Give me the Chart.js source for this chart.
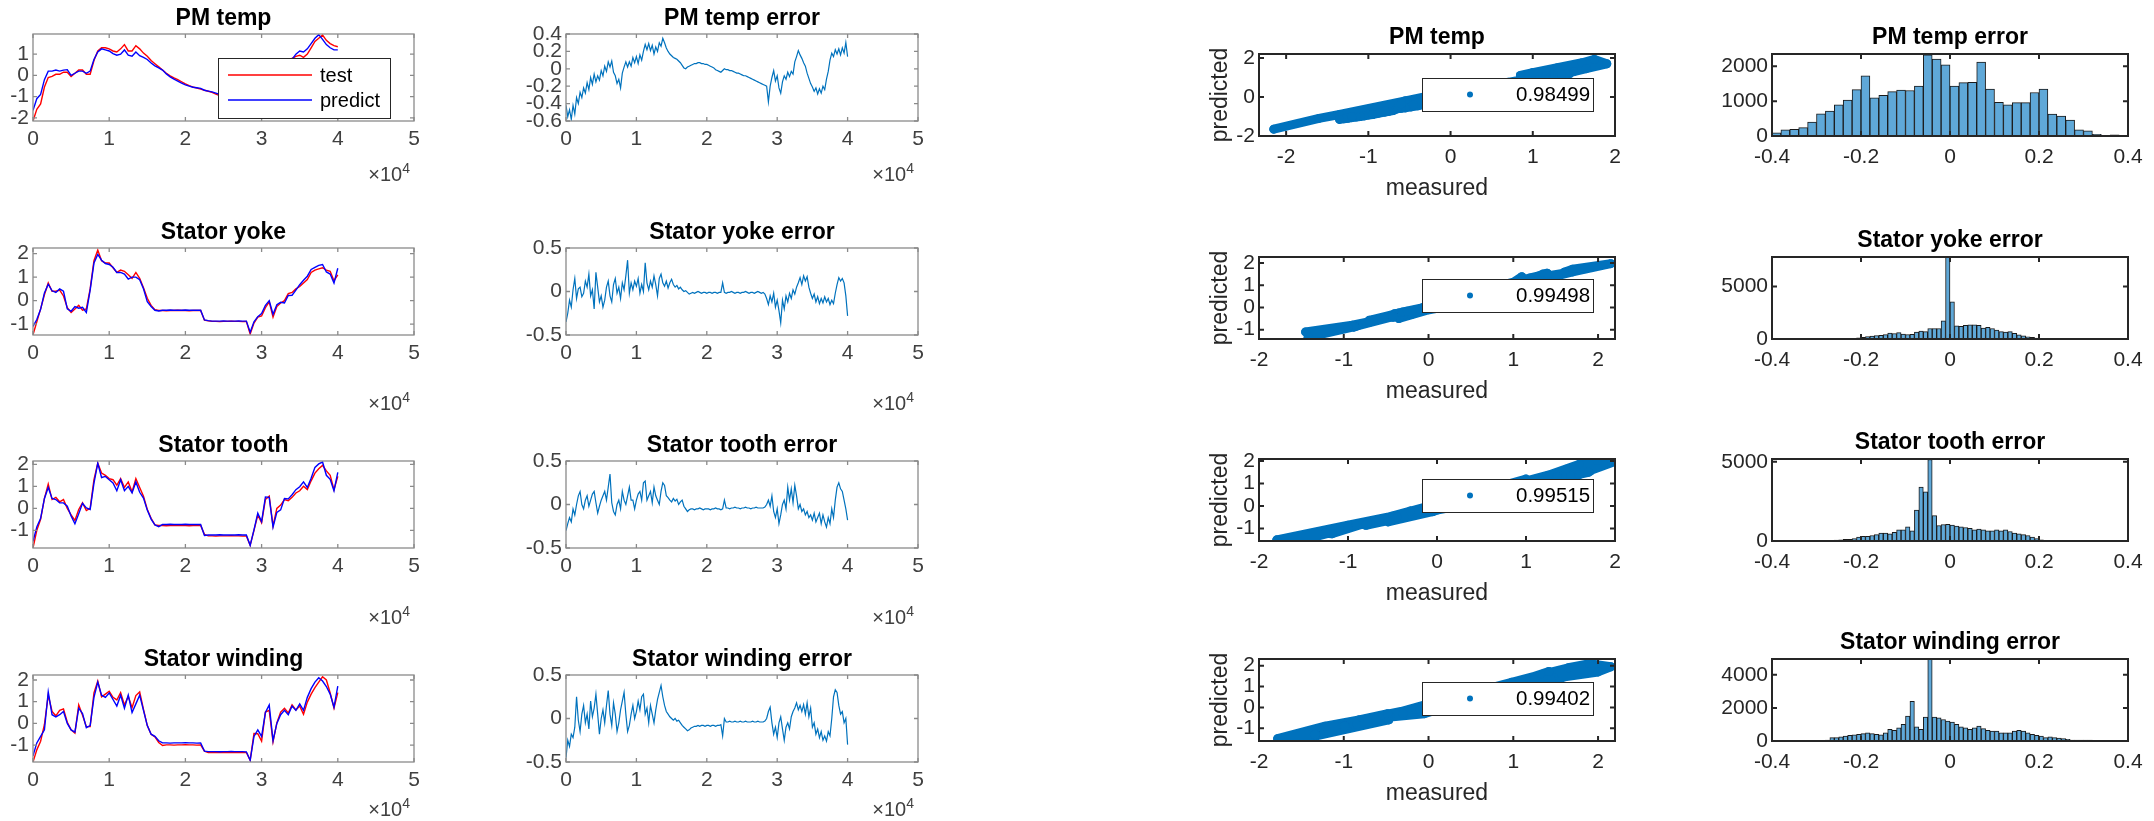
<!DOCTYPE html>
<html>
<head>
<meta charset="utf-8">
<script src="https://cdn.jsdelivr.net/npm/chart.js@4.4.1/dist/chart.umd.min.js"></script>
<style>
  html, body { margin: 0; padding: 0; background: #fff; }
  body { width: 2154px; height: 821px; position: relative; overflow: hidden; }
  canvas { position: absolute; }
</style>
</head>
<body>
<script>
"use strict";

// ---------- data ----------
const timeStep = 500;   // samples between points of the temperature traces
const errStep = 250;    // samples between points of the error traces
const names = ['PM temp', 'Stator yoke', 'Stator tooth', 'Stator winding'];
const rValues = ['0.98499', '0.99498', '0.99515', '0.99402'];

const pmTest = [-2.15,-1.60,-1.35,-0.55,-0.10,-0.05,0.05,0.05,0.15,0.15,
  -0.05,0.10,0.25,0.25,0.05,0.05,0.70,1.15,1.30,1.30,
  1.25,1.15,1.10,1.25,1.45,1.15,1.15,1.40,1.25,1.05,
  0.90,0.70,0.55,0.40,0.25,0.10,-0.02,-0.12,-0.20,-0.30,
  -0.40,-0.48,-0.55,-0.60,-0.65,-0.70,-0.75,-0.80,-0.88,-0.95,
  -1.00,-1.05,-1.10,-1.15,-1.20,-1.25,-1.30,-1.35,-1.20,-0.95,
  -0.80,-0.60,-0.40,-0.45,-0.20,0.05,0.30,0.55,0.80,0.90,
  0.95,0.85,1.00,1.30,1.60,1.75,1.90,1.65,1.50,1.40,
  1.35];
const pmPredict = [-1.65,-1.10,-0.90,-0.20,0.20,0.20,0.25,0.20,0.25,0.27,
  0.00,0.10,0.20,0.20,0.10,0.20,0.75,1.10,1.25,1.20,
  1.15,1.03,0.95,1.00,1.20,0.95,0.90,1.10,0.93,0.85,
  0.75,0.58,0.45,0.35,0.25,0.07,-0.07,-0.18,-0.27,-0.36,
  -0.45,-0.51,-0.56,-0.58,-0.61,-0.70,-0.74,-0.78,-0.84,-0.90,
  -0.93,-0.97,-1.00,-1.03,-1.06,-1.09,-1.12,-1.15,-1.00,-0.90,
  -0.70,-0.35,-0.30,-0.40,-0.15,-0.05,0.10,0.40,0.75,1.00,
  1.15,1.10,1.25,1.50,1.75,1.92,1.70,1.45,1.30,1.20,
  1.20];
const yokeTest = [-1.45,-0.90,-0.35,0.25,0.75,0.40,0.40,0.45,0.20,-0.30,
  -0.50,-0.35,-0.20,-0.40,-0.35,0.50,1.70,2.15,1.70,1.60,
  1.60,1.40,1.20,1.30,1.25,1.10,0.95,1.20,0.95,0.55,
  0.10,-0.20,-0.38,-0.42,-0.42,-0.43,-0.42,-0.42,-0.41,-0.42,
  -0.42,-0.43,-0.42,-0.42,-0.42,-0.83,-0.86,-0.88,-0.88,-0.89,
  -0.88,-0.88,-0.87,-0.88,-0.88,-0.89,-0.88,-1.42,-0.95,-0.70,
  -0.65,-0.30,-0.05,-0.70,-0.25,-0.10,0.00,0.30,0.35,0.50,
  0.60,0.75,0.90,1.20,1.30,1.35,1.40,1.30,1.25,0.85,
  1.10];
const yokePredict = [-1.10,-0.80,-0.37,0.33,0.70,0.42,0.35,0.50,0.40,-0.35,
  -0.45,-0.25,-0.32,-0.28,-0.50,0.45,1.60,1.97,1.72,1.58,
  1.54,1.42,1.20,1.20,1.13,0.92,1.00,1.00,0.89,0.51,
  -0.04,-0.25,-0.41,-0.44,-0.41,-0.41,-0.40,-0.41,-0.41,-0.41,
  -0.40,-0.41,-0.41,-0.41,-0.41,-0.82,-0.85,-0.87,-0.87,-0.87,
  -0.86,-0.87,-0.87,-0.87,-0.86,-0.87,-0.87,-1.34,-0.90,-0.68,
  -0.55,-0.20,0.00,-0.58,-0.17,-0.07,-0.10,0.22,0.23,0.45,
  0.68,0.87,1.04,1.33,1.42,1.50,1.54,1.22,1.13,0.75,
  1.38];
const toothTest = [-1.80,-1.00,-0.50,0.45,1.10,0.40,0.50,0.30,0.40,0.00,
  -0.30,-0.55,-0.05,0.25,-0.10,0.00,1.30,2.05,1.60,1.50,
  1.35,1.30,1.05,1.35,0.95,1.20,0.75,1.35,0.95,0.55,
  -0.05,-0.45,-0.75,-0.78,-0.78,-0.79,-0.78,-0.78,-0.77,-0.78,
  -0.78,-0.79,-0.78,-0.78,-0.78,-1.18,-1.25,-1.25,-1.26,-1.25,
  -1.25,-1.25,-1.24,-1.25,-1.25,-1.26,-1.25,-1.68,-1.00,-0.30,
  -0.65,0.40,0.55,-0.80,0.00,0.15,0.40,0.35,0.50,0.70,
  0.80,1.00,0.85,1.25,1.60,1.80,1.95,1.70,1.50,0.85,
  1.45];
const toothPredict = [-1.50,-0.85,-0.45,0.45,0.95,0.45,0.40,0.25,0.25,0.10,
  -0.35,-0.70,-0.25,0.23,0.02,-0.05,1.15,2.05,1.40,1.45,
  1.30,1.15,0.80,1.30,0.80,1.00,0.70,1.20,0.73,0.47,
  -0.08,-0.49,-0.75,-0.83,-0.73,-0.73,-0.72,-0.73,-0.73,-0.73,
  -0.72,-0.73,-0.73,-0.73,-0.73,-1.23,-1.21,-1.21,-1.21,-1.20,
  -1.21,-1.21,-1.21,-1.21,-1.20,-1.21,-1.21,-1.68,-0.98,-0.22,
  -0.60,0.52,0.50,-0.85,-0.18,-0.07,0.45,0.43,0.62,0.85,
  0.98,1.20,0.95,1.37,1.86,2.02,2.10,1.50,1.32,0.80,
  1.63];
const windTest = [-1.78,-1.22,-0.82,-0.05,1.30,0.55,0.35,0.60,0.67,0.05,
  -0.30,-0.45,0.85,0.37,-0.15,-0.15,1.40,1.95,1.22,1.35,
  1.48,1.20,1.08,1.42,0.85,1.25,0.72,1.28,1.45,0.65,
  -0.10,-0.50,-0.62,-0.88,-1.02,-0.99,-0.99,-1.00,-0.99,-0.99,
  -0.98,-0.99,-0.99,-1.00,-0.99,-1.28,-1.34,-1.34,-1.35,-1.34,
  -1.34,-1.34,-1.33,-1.34,-1.34,-1.35,-1.34,-1.70,-0.47,-0.48,
  -0.82,0.52,0.60,-0.85,0.02,0.52,0.70,0.48,0.85,0.62,
  0.80,0.42,0.98,1.35,1.65,1.90,2.15,2.00,1.40,0.70,
  1.42];
const windPredict = [-1.50,-0.90,-0.60,-0.30,1.45,0.40,0.30,0.40,0.55,0.00,
  -0.30,-0.40,0.70,0.45,-0.20,-0.10,1.20,1.90,1.30,1.20,
  1.40,1.10,0.80,1.30,0.70,1.30,0.50,0.90,1.30,0.60,
  -0.10,-0.50,-0.60,-0.80,-0.90,-0.90,-0.91,-0.90,-0.90,-0.90,
  -0.89,-0.90,-0.90,-0.91,-0.90,-1.28,-1.30,-1.30,-1.30,-1.31,
  -1.30,-1.30,-1.29,-1.30,-1.30,-1.30,-1.31,-1.70,-0.60,-0.30,
  -0.60,0.50,0.85,-0.80,0.00,0.40,0.60,0.40,0.80,0.60,
  0.90,0.60,1.20,1.60,1.90,2.10,1.95,1.70,1.35,0.75,
  1.72];

const pmErr = [-0.42,-0.55,-0.47,-0.58,-0.42,-0.52,-0.33,-0.40,-0.27,-0.33,
  -0.22,-0.28,-0.16,-0.24,-0.10,-0.18,-0.06,-0.15,-0.08,-0.13,
  -0.02,-0.08,0.03,-0.03,0.08,0.02,0.09,-0.04,-0.08,-0.17,
  -0.12,-0.22,-0.05,0.02,0.08,0.02,0.08,0.03,0.13,0.07,
  0.14,0.06,0.16,0.10,0.20,0.28,0.22,0.29,0.21,0.27,
  0.17,0.25,0.20,0.30,0.26,0.35,0.30,0.24,0.20,0.17,
  0.15,0.13,0.12,0.11,0.09,0.07,0.04,0.01,0.00,0.02,
  0.03,0.04,0.05,0.06,0.06,0.07,0.07,0.06,0.06,0.05,
  0.05,0.04,0.03,0.02,0.01,-0.01,-0.02,-0.03,-0.04,-0.02,
  0.00,-0.01,-0.01,-0.02,-0.02,-0.03,-0.04,-0.05,-0.05,-0.06,
  -0.07,-0.08,-0.08,-0.09,-0.10,-0.11,-0.12,-0.13,-0.14,-0.15,
  -0.16,-0.17,-0.18,-0.19,-0.20,-0.38,-0.20,-0.10,-0.02,-0.14,
  -0.08,-0.22,-0.28,-0.15,-0.08,-0.12,-0.04,-0.09,-0.03,-0.06,
  0.08,0.14,0.21,0.16,0.12,0.07,0.03,-0.05,-0.11,-0.17,
  -0.21,-0.26,-0.22,-0.29,-0.23,-0.28,-0.20,-0.24,-0.12,-0.03,
  0.10,0.18,0.14,0.22,0.17,0.23,0.16,0.24,0.18,0.30,
  0.14];
const yokeErr = [-0.35,-0.25,-0.10,-0.18,0.02,0.15,-0.08,0.03,0.05,-0.06,
  -0.02,0.12,0.05,0.20,-0.05,0.02,-0.20,0.22,0.05,-0.12,
  -0.05,-0.18,-0.10,0.05,0.12,-0.05,-0.12,0.08,0.15,-0.02,
  0.05,-0.08,0.10,0.02,0.18,0.36,-0.02,0.10,0.02,0.12,
  0.06,0.15,-0.02,0.08,0.00,0.33,0.10,0.02,0.12,0.05,
  0.18,0.08,-0.05,0.15,0.20,0.10,0.06,0.12,0.04,0.10,
  0.14,0.08,0.05,0.07,0.03,0.05,0.02,0.00,0.01,-0.01,
  -0.03,-0.02,-0.01,-0.02,-0.01,0.00,-0.01,-0.02,-0.01,-0.01,
  -0.02,-0.01,-0.01,-0.02,-0.01,-0.01,-0.02,-0.01,-0.01,0.10,
  -0.01,-0.02,-0.01,-0.01,0.00,-0.01,-0.02,-0.01,-0.01,-0.02,
  -0.01,-0.01,0.00,-0.01,-0.02,-0.01,-0.01,-0.02,-0.01,0.00,
  -0.01,-0.02,-0.01,-0.03,-0.08,-0.15,-0.05,-0.12,-0.02,-0.18,
  -0.10,-0.22,-0.36,-0.10,-0.20,-0.05,-0.12,-0.02,-0.08,0.02,
  -0.03,0.05,0.10,0.16,0.08,0.18,0.12,0.17,0.05,-0.02,
  -0.08,-0.03,-0.12,-0.06,-0.14,-0.08,-0.13,-0.06,-0.12,-0.08,
  -0.15,-0.10,-0.14,-0.02,0.08,0.16,0.12,0.15,0.10,-0.05,
  -0.28];
const toothErr = [-0.30,-0.22,-0.15,-0.20,-0.05,-0.12,0.00,0.10,0.15,0.00,
  -0.05,0.05,0.10,-0.02,0.05,0.12,0.15,0.02,-0.10,-0.02,
  0.05,0.10,0.15,0.05,0.20,0.35,0.02,-0.08,-0.12,0.00,
  0.05,-0.05,0.15,0.05,0.00,0.10,0.20,0.05,0.05,-0.05,
  0.05,0.12,0.15,0.05,0.25,0.27,0.05,0.10,0.15,0.02,
  0.20,0.10,0.05,0.00,0.15,0.25,0.22,0.10,0.08,0.05,
  0.03,0.07,0.04,0.06,0.00,0.03,0.05,-0.02,-0.05,-0.08,
  -0.06,-0.05,-0.05,-0.06,-0.05,-0.05,-0.04,-0.05,-0.06,-0.05,
  -0.05,-0.05,-0.06,-0.05,-0.05,-0.04,-0.05,-0.05,-0.06,-0.05,
  0.05,-0.04,-0.04,-0.05,-0.04,-0.04,-0.03,-0.04,-0.04,-0.05,
  -0.04,-0.04,-0.03,-0.04,-0.04,-0.05,-0.04,-0.04,-0.03,-0.04,
  -0.04,-0.04,-0.04,-0.03,0.00,0.05,-0.02,0.10,-0.08,-0.15,
  -0.05,-0.22,-0.12,0.00,0.05,-0.05,0.20,0.05,0.18,0.02,
  0.22,0.10,-0.05,0.00,-0.08,-0.05,-0.12,-0.08,-0.15,-0.12,
  -0.18,-0.10,-0.20,-0.15,-0.10,-0.22,-0.12,-0.20,-0.26,-0.15,
  -0.22,-0.05,-0.15,0.05,0.20,0.25,0.18,0.15,0.05,-0.05,
  -0.18];
const windErr = [-0.45,-0.25,-0.32,-0.18,-0.22,-0.10,0.25,-0.02,-0.15,0.05,
  0.15,-0.05,0.05,-0.12,0.20,0.02,0.12,0.28,0.05,-0.18,
  0.00,0.10,-0.05,0.15,0.32,0.05,-0.08,0.18,0.05,-0.15,
  -0.05,0.10,0.20,0.30,0.05,-0.15,-0.08,0.05,0.15,0.00,
  0.08,0.20,0.10,0.25,0.28,0.05,0.12,-0.05,0.15,0.05,
  -0.05,0.10,0.22,0.30,0.38,0.25,0.15,0.08,0.05,0.02,
  0.00,-0.02,0.00,-0.03,-0.02,-0.05,-0.08,-0.10,-0.12,-0.14,
  -0.13,-0.11,-0.10,-0.09,-0.09,-0.08,-0.09,-0.08,-0.08,-0.09,
  -0.08,-0.08,-0.09,-0.08,-0.08,-0.09,-0.08,-0.08,-0.07,-0.20,
  0.00,-0.04,-0.04,-0.03,-0.04,-0.04,-0.03,-0.04,-0.04,-0.03,
  -0.04,-0.04,-0.03,-0.04,-0.04,-0.04,-0.03,-0.04,-0.04,-0.03,
  -0.04,-0.04,-0.04,-0.03,0.00,0.08,0.13,-0.05,-0.18,-0.10,
  -0.22,-0.05,0.02,-0.12,-0.25,-0.10,-0.05,-0.12,0.02,0.08,
  0.12,0.18,0.10,0.15,0.08,0.16,0.05,0.18,0.02,0.12,
  -0.10,-0.05,-0.18,-0.12,-0.22,-0.15,-0.25,-0.20,-0.26,-0.15,
  -0.20,0.00,0.25,0.33,0.30,0.15,0.05,0.08,-0.05,0.00,
  -0.30];

// histogram counts, bins start at -0.4
const pmHistBin = 0.02;
const pmHist = [90,180,190,240,400,640,715,895,1030,1330,
  1725,1095,1170,1275,1315,1305,1430,2330,2210,2040,
  1430,1530,1540,2125,1350,970,895,960,960,1250,
  1350,630,570,460,180,150,50,10,30,0];
const fineBin = 0.01;
const yokeHist = [0,0,5,0,0,5,0,5,10,5,
  10,15,20,30,40,30,20,30,60,100,
  150,230,290,330,360,420,560,520,600,480,
  430,450,650,750,700,1000,1000,1000,1740,7800,
  3550,1250,1200,1300,1350,1350,1300,1050,1100,1000,
  850,700,650,700,550,400,300,200,150,80,
  30,20,10,10,5,5,5,0,5,0,
  5,0,0,0,5,0,0,0,0,0];
const toothHist = [0,0,0,0,0,0,5,0,5,5,
  10,20,30,40,60,80,100,100,150,250,
  300,300,350,400,500,500,450,550,700,700,
  900,650,1950,3400,3100,5150,1600,980,1040,1050,
  1000,950,900,850,800,700,750,700,650,650,
  700,650,700,600,500,450,400,350,250,150,
  80,50,30,20,10,10,5,5,5,5,
  5,5,5,5,0,0,0,0,0,0];
const windHist = [0,0,0,0,0,0,0,0,0,0,
  10,20,50,200,200,250,300,350,380,400,
  450,500,450,400,380,500,700,650,800,1000,
  1500,2400,850,700,1450,4950,1450,1400,1300,1200,
  1150,1000,850,800,700,800,900,750,650,600,
  600,500,500,500,600,650,600,500,400,350,
  300,200,250,200,180,150,100,50,50,50,
  50,50,20,10,5,0,0,0,0,0];

const tests = [pmTest, yokeTest, toothTest, windTest];
const predicts = [pmPredict, yokePredict, toothPredict, windPredict];
const errors = [pmErr, yokeErr, toothErr, windErr];
const hists = [pmHist, yokeHist, toothHist, windHist];
const histBins = [pmHistBin, fineBin, fineBin, fineBin];

// axis limits / ticks per row
const traceY = [[-2.15, 1.95, [-2, -1, 0, 1]], [-1.46, 2.24, [-1, 0, 1, 2]],
                [-1.8, 2.15, [-1, 0, 1, 2]], [-1.78, 2.23, [-1, 0, 1, 2]]];
const errY = [[-0.6, 0.4, [-0.6, -0.4, -0.2, 0, 0.2, 0.4]], [-0.5, 0.5, [-0.5, 0, 0.5]],
              [-0.5, 0.5, [-0.5, 0, 0.5]], [-0.5, 0.5, [-0.5, 0, 0.5]]];
const scatX = [[-2.33, 2.0], [-2, 2.2], [-2, 2], [-2, 2.2]];
const scatY = [[-2.0, 2.2, [-2, 0, 2]], [-1.42, 2.27, [-1, 0, 1, 2]],
               [-1.55, 2.09, [-1, 0, 1, 2]], [-1.61, 2.32, [-1, 0, 1, 2]]];
const histY = [[0, 2354, [0, 1000, 2000]], [0, 7810, [0, 5000]],
               [0, 5180, [0, 5000]], [0, 4955, [0, 2000, 4000]]];

// ---------- layout ----------
const FONT = "'Liberation Sans', Arial, Helvetica, sans-serif";
const M = {l: 80, r: 36, t: 44, b: 80};
const leftFig = {x: [33, 566], w: [381, 352], y: [34, 248, 461, 675], h: 87, exp: [60, 75, 76, 54]};
const rightFig = {x: [1259, 1772], w: [356, 356], y: [54, 257, 459, 659], h: 82, legTop: [24, 22, 20, 23]};
const LS = {tick: 21, tickColor: '#404040', title: 23, box: '#8a8a8a', boxW: 1.3, tickLen: 4, xPad: 6, titleGap: 9};
const RS = {tick: 21, tickColor: '#262626', title: 23, box: '#262626', boxW: 2, tickLen: 5, xPad: 9, titleGap: 10};

function fmt(v) { return String(Math.round(v * 1000) / 1000); }

const matlabAxes = {
  id: 'matlabAxes',
  afterDatasetsDraw(chart, args, o) {
    const {ctx, chartArea: a, scales: {x, y}} = chart;
    ctx.save();
    ctx.strokeStyle = o.box;
    ctx.lineWidth = o.boxW;
    ctx.strokeRect(a.left, a.top, a.right - a.left, a.bottom - a.top);
    ctx.beginPath();
    x.ticks.forEach(t => {
      const px = x.getPixelForValue(t.value);
      ctx.moveTo(px, a.bottom); ctx.lineTo(px, a.bottom - o.tickLen);
      ctx.moveTo(px, a.top); ctx.lineTo(px, a.top + o.tickLen);
    });
    y.ticks.forEach(t => {
      const py = y.getPixelForValue(t.value);
      ctx.moveTo(a.left, py); ctx.lineTo(a.left + o.tickLen, py);
      ctx.moveTo(a.right, py); ctx.lineTo(a.right - o.tickLen, py);
    });
    ctx.stroke();

    ctx.fillStyle = '#000';
    ctx.font = 'bold ' + o.titleSize + 'px ' + FONT;
    ctx.textAlign = 'center';
    ctx.textBaseline = 'alphabetic';
    ctx.fillText(o.title, (a.left + a.right) / 2, a.top - o.titleGap);

    if (o.exp) {
      ctx.fillStyle = o.tickColor;
      ctx.textAlign = 'right';
      ctx.font = '14px ' + FONT;
      const sw = ctx.measureText('4').width;
      ctx.fillText('4', a.right - 4, a.bottom + o.exp - 8);
      ctx.font = '20px ' + FONT;
      ctx.fillText('\u00d710', a.right - 4 - sw, a.bottom + o.exp);
    }

    const L = o.legend;
    if (L) {
      const bx = a.right - L.right - L.w, by = a.top + L.top;
      ctx.fillStyle = '#fff';
      ctx.fillRect(bx, by, L.w, L.h);
      ctx.strokeStyle = '#262626';
      ctx.lineWidth = 1;
      ctx.strokeRect(bx + 0.5, by + 0.5, L.w, L.h);
      chart.data.datasets.forEach((ds, i) => {
        const cy = by + L.first + i * L.step;
        if (L.kind === 'line') {
          ctx.strokeStyle = ds.borderColor;
          ctx.lineWidth = 1.5;
          ctx.beginPath(); ctx.moveTo(bx + L.s0, cy); ctx.lineTo(bx + L.s1, cy); ctx.stroke();
        } else {
          ctx.fillStyle = ds.backgroundColor;
          ctx.beginPath(); ctx.arc(bx + L.s0, cy, 3, 0, Math.PI * 2); ctx.fill();
        }
        ctx.fillStyle = '#000';
        ctx.font = L.size + 'px ' + FONT;
        ctx.textAlign = 'left';
        ctx.textBaseline = 'middle';
        ctx.fillText(ds.label, bx + L.tx, cy + 1);
      });
    }
    ctx.restore();
  }
};

function addCanvas(x, y, w, h) {
  const c = document.createElement('canvas');
  c.width = w + M.l + M.r;
  c.height = h + M.t + M.b;
  c.style.left = (x - M.l) + 'px';
  c.style.top = (y - M.t) + 'px';
  c.style.width = c.width + 'px';
  c.style.height = c.height + 'px';
  document.body.appendChild(c);
  return c;
}

function scale(pos, min, max, ticks, st, label, title) {
  return {
    type: 'linear', position: pos, min: min, max: max, offset: false,
    afterBuildTicks: s => { s.ticks = ticks.map(v => ({value: v})); },
    afterFit: s => { if (pos === 'left') s.width = M.l; else s.height = M.b; },
    grid: {display: false, drawTicks: false},
    border: {display: false},
    ticks: {
      font: {family: FONT, size: st.tick}, color: st.tickColor,
      padding: pos === 'left' ? 4 : st.xPad, autoSkip: false, maxRotation: 0,
      callback: label
    },
    title: title || {display: false}
  };
}

function subplot(col, row, fig, st, type, datasets, xs, ys, deco, titles) {
  const x0 = fig.x[col], w = fig.w[col], y0 = fig.y[row], h = fig.h;
  const canvas = addCanvas(x0, y0, w, h);
  titles = titles || {};
  return new Chart(canvas, {
    type: type,
    data: {datasets: datasets},
    options: {
      responsive: false, animation: false, devicePixelRatio: 1,
      layout: {padding: {left: 0, right: M.r, top: M.t, bottom: 0}},
      scales: {
        x: scale('bottom', xs[0], xs[1], xs[2], st, xs[3], titles.x),
        y: scale('left', ys[0], ys[1], ys[2], st, fmt, titles.y)
      },
      plugins: {
        legend: {display: false}, tooltip: {enabled: false},
        matlabAxes: Object.assign({
          box: st.box, boxW: st.boxW, tickLen: st.tickLen, titleSize: st.title,
          titleGap: st.titleGap, tickSize: st.tick, tickColor: st.tickColor
        }, deco)
      }
    },
    plugins: [matlabAxes]
  });
}

const timeTicks = [0, 10000, 20000, 30000, 40000, 50000];
const timeX = [0, 50000, timeTicks, v => fmt(v / 10000)];
const axisTitle = (text, pad) => ({display: true, text: text, color: '#262626',
                                   font: {family: FONT, size: 23}, padding: pad});

for (let r = 0; r < 4; r++) {
  // time traces: measured vs predicted
  subplot(0, r, leftFig, LS, 'line', [
    {label: 'test', data: tests[r].map((v, i) => ({x: i * timeStep, y: v})),
     borderColor: '#ff0000', borderWidth: 1.4, pointRadius: 0, order: 1},
    {label: 'predict', data: predicts[r].map((v, i) => ({x: i * timeStep, y: v})),
     borderColor: '#0000ff', borderWidth: 1.4, pointRadius: 0, order: 0}
  ], timeX, traceY[r], {
    title: names[r], exp: leftFig.exp[r],
    legend: r === 0 ? {right: 24, top: 24, w: 172, h: 60, first: 17, step: 25,
                       kind: 'line', s0: 10, s1: 94, tx: 102, size: 20} : null
  });

  // error traces
  subplot(1, r, leftFig, LS, 'line', [
    {label: 'error', data: errors[r].map((v, i) => ({x: i * errStep, y: v})),
     borderColor: '#0072bd', borderWidth: 1.2, pointRadius: 0}
  ], timeX, errY[r], {title: names[r] + ' error', exp: leftFig.exp[r]});

  // measured vs predicted scatter
  subplot(0, r, rightFig, RS, 'scatter', [
    {label: rValues[r], data: tests[r].map((v, i) => ({x: v, y: predicts[r][i]})),
     showLine: true, borderColor: '#0072bd', backgroundColor: '#0072bd', borderWidth: 9,
     borderJoinStyle: 'round', borderCapStyle: 'round', pointRadius: 4.5, pointBorderWidth: 0}
  ], [scatX[r][0], scatX[r][1], [-2, -1, 0, 1, 2], fmt], scatY[r], {
    title: r === 0 ? names[r] : '',
    legend: {right: 22, top: rightFig.legTop[r], w: 171, h: 33, first: 16.5, step: 0,
             kind: 'dot', s0: 48, tx: 94, size: 20.5}
  }, {
    x: axisTitle('measured', {top: 0, bottom: 14}),
    y: axisTitle('predicted', {top: 28, bottom: 0})
  });

  // error histograms
  const bw = histBins[r];
  subplot(1, r, rightFig, RS, 'bar', [
    {label: 'count', data: hists[r].map((c, i) => ({x: -0.4 + (i + 0.5) * bw, y: c})),
     backgroundColor: '#5fa8d8', borderColor: '#1a1a1a', borderWidth: 1, borderSkipped: false,
     barPercentage: 1, categoryPercentage: 1}
  ], [-0.4, 0.4, [-0.4, -0.2, 0, 0.2, 0.4], fmt], histY[r], {title: names[r] + ' error'});
}
</script>
</body>
</html>
